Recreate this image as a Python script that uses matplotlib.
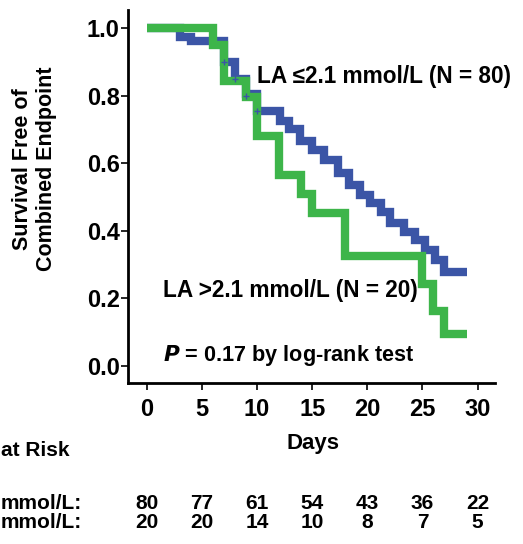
import matplotlib
matplotlib.use('Agg')
import matplotlib.pyplot as plt

# survival curves (day, survival after step)
low_days = [0, 3, 4, 7, 8, 9, 10, 12.1, 12.9, 13.9, 15, 16.1, 17.3, 18.3, 19.3,
            20.2, 21.2, 22.1, 23.3, 24.3, 25.2, 26.1, 27, 29]
low_surv = [1.0, 0.975, 0.9625, 0.90, 0.85, 0.805, 0.756, 0.726, 0.70, 0.667,
            0.639, 0.61, 0.57, 0.535, 0.506, 0.481, 0.456, 0.422, 0.395, 0.3725,
            0.343, 0.313, 0.277, 0.277]
high_days = [0, 6, 7, 9, 10, 12, 14, 15, 18, 25, 26, 27, 29]
high_surv = [1.0, 0.95, 0.845, 0.795, 0.68, 0.565, 0.51, 0.452, 0.326, 0.242,
             0.163, 0.094, 0.094]

# censored observations on the low group
cens_days = [7, 8, 9, 10]
cens_surv = [0.90, 0.85, 0.80, 0.756]

risk_days = [0, 5, 10, 15, 20, 25, 30]
risk_low = [80, 77, 61, 54, 43, 36, 22]
risk_high = [20, 20, 14, 10, 8, 7, 5]

blue = '#3b55a6'
green = '#3db54a'

plt.rcParams['font.family'] = ['Liberation Sans', 'DejaVu Sans']
plt.rcParams['font.weight'] = 'bold'

fig = plt.figure(figsize=(5.23, 5.44), dpi=100)
ax = fig.add_axes([128 / 523, 1 - 383 / 544, 367 / 523, 373 / 544])

ax.step(low_days, low_surv, where='post', color=blue, lw=6,
        solid_joinstyle='miter', solid_capstyle='butt', zorder=2)
ax.step(high_days, high_surv, where='post', color=green, lw=6,
        solid_joinstyle='miter', solid_capstyle='butt', zorder=3)
ax.plot(cens_days, cens_surv, '+', color=blue, ms=5, mew=1, zorder=4)

ax.set_xlim(-1.7, 31.58)
ax.set_ylim(-0.0513, 1.054)
ax.set_xticks(range(0, 31, 5))
ax.set_yticks([0.0, 0.2, 0.4, 0.6, 0.8, 1.0])
ax.set_yticklabels(['0.0', '0.2', '0.4', '0.6', '0.8', '1.0'])

for s in ['top', 'right']:
    ax.spines[s].set_visible(False)
for s in ['left', 'bottom']:
    ax.spines[s].set_linewidth(2)
ax.tick_params(axis='y', labelsize=17, length=5, width=1.2, pad=1)
ax.tick_params(axis='x', labelsize=17, length=5, width=1.2, pad=6)
for lab in ax.get_xticklabels() + ax.get_yticklabels():
    lab.set_fontweight('bold')

ax.text(-0.255, 0.574, 'Survival Free of\nCombined Endpoint', transform=ax.transAxes,
        rotation=90, ha='center', va='center', fontsize=15.5, fontweight='bold',
        multialignment='center')
ax.text(0.504, -0.161, 'Days', transform=ax.transAxes, ha='center', va='center',
        fontsize=16, fontweight='bold')

ax.text(10.0, 0.857, 'LA \u22642.1 mmol/L (N = 80)', ha='left', va='center',
        fontsize=16.3, fontweight='bold', clip_on=False)
ax.text(1.48, 0.224, 'LA >2.1 mmol/L (N = 20)', ha='left', va='center',
        fontsize=16.3, fontweight='bold')
ax.text(1.48, 0.03, r'$\bf{\it{P}}$ = 0.17 by log-rank test', ha='left', va='center',
        fontsize=15.6, fontweight='bold')

# number at risk table
trans = ax.get_xaxis_transform()
ax.text(-0.347, -0.180, 'at Risk', transform=ax.transAxes, ha='left', va='center',
        fontsize=15, fontweight='bold', clip_on=False)
ax.text(-0.347, -0.324, 'mmol/L:', transform=ax.transAxes, ha='left', va='center',
        fontsize=15, fontweight='bold', clip_on=False)
ax.text(-0.347, -0.373, 'mmol/L:', transform=ax.transAxes, ha='left', va='center',
        fontsize=15, fontweight='bold', clip_on=False)
for d, a, b in zip(risk_days, risk_low, risk_high):
    ax.text(d, -0.324, str(a), transform=trans, ha='center', va='center',
            fontsize=15, fontweight='bold', clip_on=False)
    ax.text(d, -0.373, str(b), transform=trans, ha='center', va='center',
            fontsize=15, fontweight='bold', clip_on=False)

fig.savefig('out.png', dpi=100)
